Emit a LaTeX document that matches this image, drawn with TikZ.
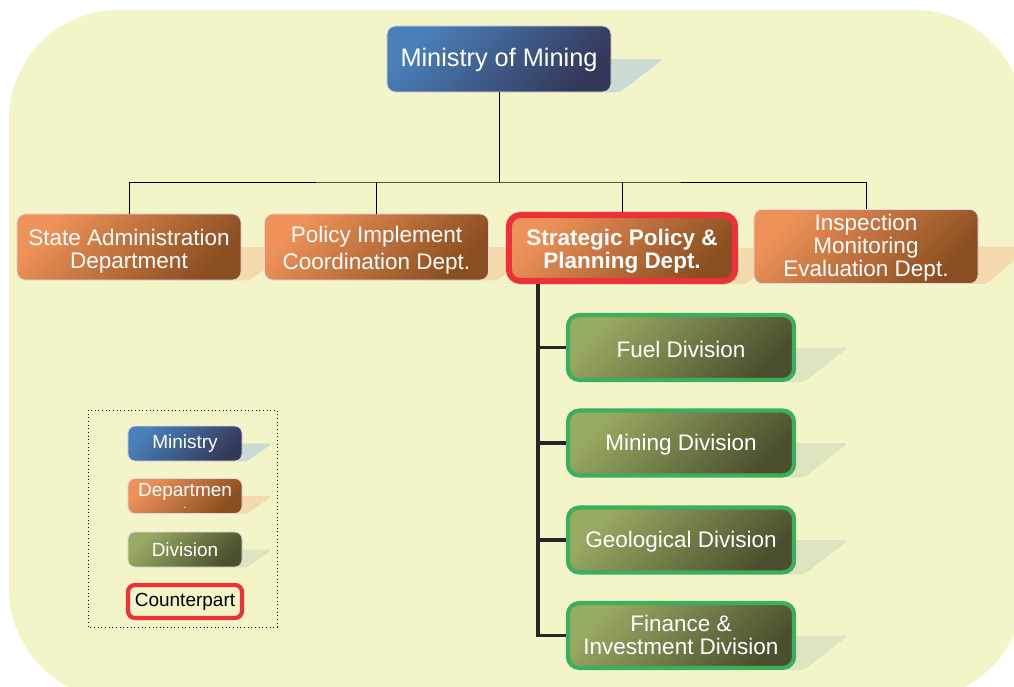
\documentclass[tikz,border=0pt]{standalone}
\usepackage{fontspec}
\setmainfont{Liberation Sans}
\usepackage{tikz}
\usetikzlibrary{calc,positioning}
\pgfdeclarelayer{bg}
\pgfsetlayers{bg,main}
\definecolor{bgyellow}{HTML}{F3F5C9}
\definecolor{minA}{HTML}{4A80BA}
\definecolor{minB}{HTML}{34395A}
\definecolor{depA}{HTML}{EF9259}
\definecolor{depB}{HTML}{8A4E20}
\definecolor{divA}{HTML}{98AB63}
\definecolor{divB}{HTML}{4C4F2E}
\definecolor{cpred}{HTML}{ED3237}
\definecolor{divgreen}{HTML}{3CAE5F}
\definecolor{minshadow}{HTML}{CBDAD2}
\definecolor{depshadow}{HTML}{F5DAAE}
\definecolor{divshadow}{HTML}{DDE4BF}
\definecolor{boxedge}{HTML}{DCDAEA}
\newcommand{\boxtext}[2]{\raisebox{#1}[\height][\depth]{\begin{tabular}{@{}c@{}}#2\end{tabular}}}
\tikzset{
    box/.style={rounded corners=6pt,draw=boxedge,line width=0.6pt,text=white,align=center,inner sep=2pt,
                font=\fontsize{16}{16.3}\selectfont},
    minbox/.style={box,top color=minA,bottom color=minB,shading angle=45},
    depbox/.style={box,top color=depA,bottom color=depB,shading angle=45,minimum width=5.6cm,minimum height=1.65cm},
    stratbox/.style={depbox,draw=cpred,line width=4.3pt,rounded corners=8pt,minimum width=5.65cm},
    divbox/.style={box,top color=divA,bottom color=divB,shading angle=45,draw=divgreen,line width=3pt,
                   rounded corners=8pt,minimum width=5.65cm,minimum height=1.62cm},
    legbox/.style={minimum width=2.85cm,minimum height=0.875cm,rounded corners=5pt,font=\fontsize{13.5}{14}\selectfont},
    link/.style={line width=0.7pt,draw=black},
    trunkline/.style={line width=2.2pt,draw=black!85},
}

\begin{document}
\begin{tikzpicture}[x=0.025cm,y=-0.025cm]
  \useasboundingbox (0,0) rectangle (1014,686);
  \clip (0,0) rectangle (1014,686);
  \begin{pgfonlayer}{bg}
    \fill[bgyellow,rounded corners=78pt] (9,10) rectangle (1024,699);
  \end{pgfonlayer}

  % ministry and departments
  \node[minbox,minimum width=5.6cm,minimum height=1.65cm,font=\fontsize{18}{20}\selectfont] (ministry) at (499,59) {\boxtext{-1.5pt}{Ministry of Mining}};
  \node[depbox] (dept1) at (129,247) {\boxtext{-4pt}{State Administration\\Department}};
  \node[depbox] (dept2) at (376.5,247) {\boxtext{-3pt}{Policy Implement\\[3pt]Coordination Dept.}};
  \node[stratbox,font=\fontsize{16}{15.6}\bfseries] (strat) at (622,248) {\boxtext{-3pt}{Strategic Policy \&\\Planning Dept.}};
  \node[depbox,font=\fontsize{16}{15.6}\selectfont] (dept4) at (866,246.5) {\boxtext{-1.5pt}{Inspection\\Monitoring\\Evaluation Dept.}};

  % divisions
  \node[divbox] (fuel) at (681,347.5) {\boxtext{-4pt}{Fuel Division}};
  \node[divbox] (mining) at (681,443) {\boxtext{-2pt}{Mining Division}};
  \node[divbox] (geo) at (681,540) {\boxtext{-2pt}{Geological Division}};
  \node[divbox,font=\fontsize{16}{15.6}\selectfont] (finance) at (681,635.5) {\boxtext{-2pt}{Finance \&\\Investment Division}};

  % legend
  \draw[dotted,line width=0.6pt] (88,410) rectangle (277,627);
  \node[minbox,legbox] (legmin) at (185,443.5) {Ministry};
  \node[box,top color=depA,bottom color=depB,shading angle=45,legbox] (legdep) at (185,496) {Departmen\\[-6pt]{\fontsize{8}{8}\selectfont .}};
  \node[box,top color=divA,bottom color=divB,shading angle=45,legbox] (legdiv) at (185,549.5) {Division};
  \node[legbox,draw=cpred,line width=3pt,fill=bgyellow,text=black,minimum height=0.825cm] (legcp) at (185,601.5) {Counterpart};

  % connectors
  \coordinate (bus) at (499,182);
  \draw[link] (ministry.south) -- (ministry.south |- bus);
  \draw[link] (dept1.north) |- (bus) -| (dept4.north);
  \draw[link] (dept2.north) -- (dept2.north |- bus);
  \draw[link] (strat.north) -- (strat.north |- bus);
  \coordinate (trunk) at ([xshift=0.8cm]strat.south west);
  \draw[trunkline] (trunk) |- (finance.west);
  \foreach \d in {fuel,mining,geo}
    \draw[trunkline] (\d.west) -- (\d.west -| trunk);

  % shadows
  \begin{pgfonlayer}{bg}
    \fill[minshadow,rounded corners=3pt] ([xshift=-0.25cm]ministry.east) -- ++(62,0) -- ([xshift=0.2cm]ministry.south east) -- ([xshift=-0.25cm]ministry.south east) -- cycle;
    \foreach \n in {dept1,dept2,strat,dept4}
      \fill[depshadow,rounded corners=3pt] ([xshift=-0.25cm]\n.east) -- ++(62,0) -- ([xshift=0.2cm]\n.south east) -- ([xshift=-0.25cm]\n.south east) -- cycle;
    \foreach \n in {fuel,mining,geo,finance}
      \fill[divshadow,rounded corners=3pt] ([xshift=-0.25cm]\n.east) -- ++(62,0) -- ([xshift=0.2cm]\n.south east) -- ([xshift=-0.25cm]\n.south east) -- cycle;
    \fill[minshadow,rounded corners=2pt] ([xshift=-0.2cm]legmin.east) -- ++(38,0) -- ([xshift=0.1cm]legmin.south east) -- ([xshift=-0.2cm]legmin.south east) -- cycle;
    \fill[depshadow,rounded corners=2pt] ([xshift=-0.2cm]legdep.east) -- ++(38,0) -- ([xshift=0.1cm]legdep.south east) -- ([xshift=-0.2cm]legdep.south east) -- cycle;
    \fill[divshadow,rounded corners=2pt] ([xshift=-0.2cm]legdiv.east) -- ++(38,0) -- ([xshift=0.1cm]legdiv.south east) -- ([xshift=-0.2cm]legdiv.south east) -- cycle;
  \end{pgfonlayer}
\end{tikzpicture}
\end{document}
